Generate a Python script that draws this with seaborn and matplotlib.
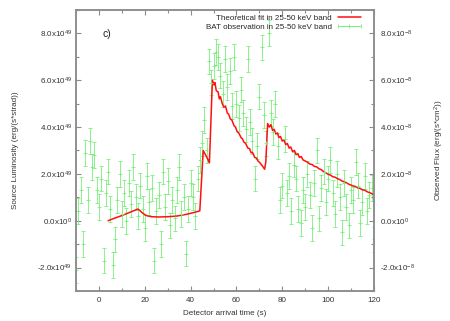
import matplotlib
matplotlib.use("Agg")
import matplotlib.pyplot as plt
import seaborn as sns
from matplotlib.lines import Line2D
from matplotlib.ticker import MultipleLocator, FuncFormatter

# BAT observation, 1 s bins, luminosity in units of 1e49 erg/(s*strad)
t_obs = list(range(-10, 121))
lum_obs = [-2.1, 0.4, 1.3, -1.0, 2.9, 0.9, 3.4, 2.3, 2.8, 1.3,
           0.6, 1.8, -1.7, 1.2, 2.1, 0.5, -1.9, -0.8, 0.9, 2.0,
           0.3, 1.2, 0.0, 1.6, 0.7, 2.3, 1.0, 0.2, 1.5, 0.5,
           -0.3, 1.9, 0.8, 1.4, -1.7, 0.4, 1.1, -1.0, 2.1, 0.6,
           1.7, -0.2, 0.9, 0.1, 1.3, 2.3, 0.3, 1.0, -1.4, 0.5,
           1.6, 1.0, 0.2, 1.8, 2.6, 3.3, 4.3, 3.0, 6.8, 5.9,
           6.6, 7.2, 7.0, 6.2, 5.4, 6.9, 5.7, 6.4, 4.9, 7.0,
           5.0, 4.4, 5.6, 4.6, 3.9, 6.9, 4.2, 3.4, 1.8, 3.2,
           5.3, 7.4, 4.5, 3.3, 8.0, 4.6, 3.8, 5.0, 3.2, 0.9,
           1.5, 3.5, 1.2, 1.9, 0.4, 2.4, 1.8, 0.5, -0.1, 1.3,
           0.6, 2.0, 1.1, -0.3, 1.6, 3.0, 0.1, 1.4, 2.1, 0.8,
           1.8, 2.6, 1.2, 0.3, 2.0, 1.0, -0.5, 1.6, 0.6, -0.2,
           1.3, 0.9, 2.5, 1.5, -0.1, 0.8, 1.9, 0.4, 1.1, 1.4,
           -0.8]
err_obs = 0.55

# theoretical fit
t_fit = [4, 6, 8, 10, 12, 14, 16, 17, 18, 19, 20, 21, 23, 26, 30, 34, 38, 41, 44,
         45.5, 46.3, 47, 47.6, 48.2,
         49.5, 50.2, 50.6, 51.2, 52, 52.5, 53, 53.8, 54.5, 55.2, 56, 56.6, 57.3, 58,
         59, 59.6, 60.3, 61, 62, 62.6, 63.3, 64, 65, 65.7, 66.4, 67, 68, 68.7, 69.4,
         70, 71, 71.6, 72.3,
         72.8, 73.6, 74.3, 75, 75.8, 76.5, 77.2, 77.9, 78.5, 79.2, 80, 80.7, 81.5,
         82.2, 83, 83.7, 84.5, 85.3, 86, 86.8, 87.5, 88.3, 89, 90, 91, 92, 93, 94,
         95, 96, 97, 98, 99, 100, 101, 102, 103, 104, 105, 106, 107, 108, 109, 110,
         111, 112, 113, 114, 115, 116, 117, 118, 119, 120]
lum_fit = [0.0, 0.08, 0.15, 0.22, 0.30, 0.38, 0.46, 0.50, 0.42, 0.33, 0.26, 0.21, 0.17, 0.16, 0.17, 0.20, 0.27, 0.34, 0.42,
           3.0, 2.85, 2.72, 2.6, 2.48,
           6.0, 5.8, 5.9, 5.55, 5.5, 5.2, 5.3, 5.0, 4.85, 4.9, 4.6, 4.55, 4.35, 4.3,
           4.05, 4.0, 3.8, 3.75, 3.55, 3.5, 3.35, 3.3, 3.1, 3.08, 2.9, 2.92, 2.7, 2.68, 2.55,
           2.5, 2.38, 2.3, 2.2,
           2.5, 4.15, 4.0, 4.1, 3.85, 3.9, 3.7, 3.75, 3.55, 3.6, 3.4, 3.45, 3.25,
           3.3, 3.1, 3.15, 2.95, 3.0, 2.82, 2.86, 2.7, 2.74, 2.6, 2.55, 2.5, 2.42, 2.4, 2.32,
           2.3, 2.22, 2.18, 2.1, 2.05, 1.98, 1.95, 1.88, 1.86, 1.8, 1.76, 1.7, 1.66, 1.62, 1.56, 1.52,
           1.48, 1.46, 1.4, 1.38, 1.32, 1.3, 1.24, 1.2, 1.16, 1.12]

green = '#78f078'
grey = '#8c8c8c'

sns.set_style("ticks")
plt.rcParams['font.family'] = ['Liberation Sans', 'DejaVu Sans']
plt.rcParams['mathtext.default'] = 'regular'
plt.rcParams['axes.unicode_minus'] = False

fig = plt.figure(figsize=(4.5, 3.21), dpi=100)
ax = fig.add_axes([0.169, 0.0935, 0.662, 0.8755])

ax.errorbar(t_obs, lum_obs, yerr=err_obs, fmt='+', color=green, ecolor=green,
            markersize=2.2, markeredgewidth=0.6, elinewidth=0.6, capsize=1.5, capthick=0.6)
sns.lineplot(x=t_fit, y=lum_fit, color='#ff1010', linewidth=1.1, sort=False, estimator=None, ax=ax)

ax.set_xlim(-10, 120)
ax.set_ylim(-3, 9)
ax.xaxis.set_major_locator(MultipleLocator(20))
ax.xaxis.set_minor_locator(MultipleLocator(10))
ax.yaxis.set_major_locator(MultipleLocator(2))
ax.yaxis.set_minor_locator(MultipleLocator(1))


def lum_fmt(v, pos):
    if abs(v) < 1e-9:
        return '0.0x10$^{0}$'
    return '%.1fx10$^{49}$' % v


def flux_fmt(v, pos):
    if abs(v) < 1e-9:
        return '0.0x10$^{0}$'
    return '%.1fx10$^{-8}$' % v


ax.yaxis.set_major_formatter(FuncFormatter(lum_fmt))

ax2 = ax.twinx()
ax2.set_ylim(-3, 9)
ax2.yaxis.set_major_locator(MultipleLocator(2))
ax2.yaxis.set_minor_locator(MultipleLocator(1))
ax2.yaxis.set_major_formatter(FuncFormatter(flux_fmt))

for a in (ax, ax2):
    for s in a.spines.values():
        s.set_color(grey)
        s.set_linewidth(1.1)
    a.tick_params(which='both', direction='in', color=grey, labelsize=5.8, labelcolor='#333333')
    a.tick_params(which='major', length=3.5, width=0.8)
    a.tick_params(which='minor', length=2, width=0.8)

ax.tick_params(which='both', top=True, right=False)
ax.tick_params(axis='y', pad=3)
ax.tick_params(axis='x', pad=4)
ax2.tick_params(axis='y', pad=4)

ax.set_xlabel('Detector arrival time (s)', fontsize=5.8, color='#333333')
ax.set_ylabel('Source Luminosity (erg/(s*strad))', fontsize=5.8, color='#333333')
ax2.set_ylabel('Observed Flux (erg/(s*cm$^{2}$))', fontsize=5.8, color='#333333')
ax.xaxis.set_label_coords(0.5, -0.068)
ax.yaxis.set_label_coords(-0.191, 0.5)
ax2.yaxis.set_label_coords(1.196, 0.5)

ax.text(3.5, 7.96, 'c)', fontsize=7.5, ha='center', va='center', color='#222222')

handles = [Line2D([], [], color='#ff1010', lw=1.1),
           Line2D([], [], color=green, lw=0.7, marker='|', markersize=3, markeredgewidth=0.6)]
ax.legend(handles, ['Theoretical fit in 25-50 keV band', 'BAT observation in 25-50 keV band'],
          loc='upper right', bbox_to_anchor=(0.963, 0.986), frameon=False, markerfirst=False,
          fontsize=5.8, handlelength=3.4, handletextpad=0.5, labelspacing=0.25,
          borderpad=0, borderaxespad=0, numpoints=3)

fig.savefig('out.png', dpi=100)
